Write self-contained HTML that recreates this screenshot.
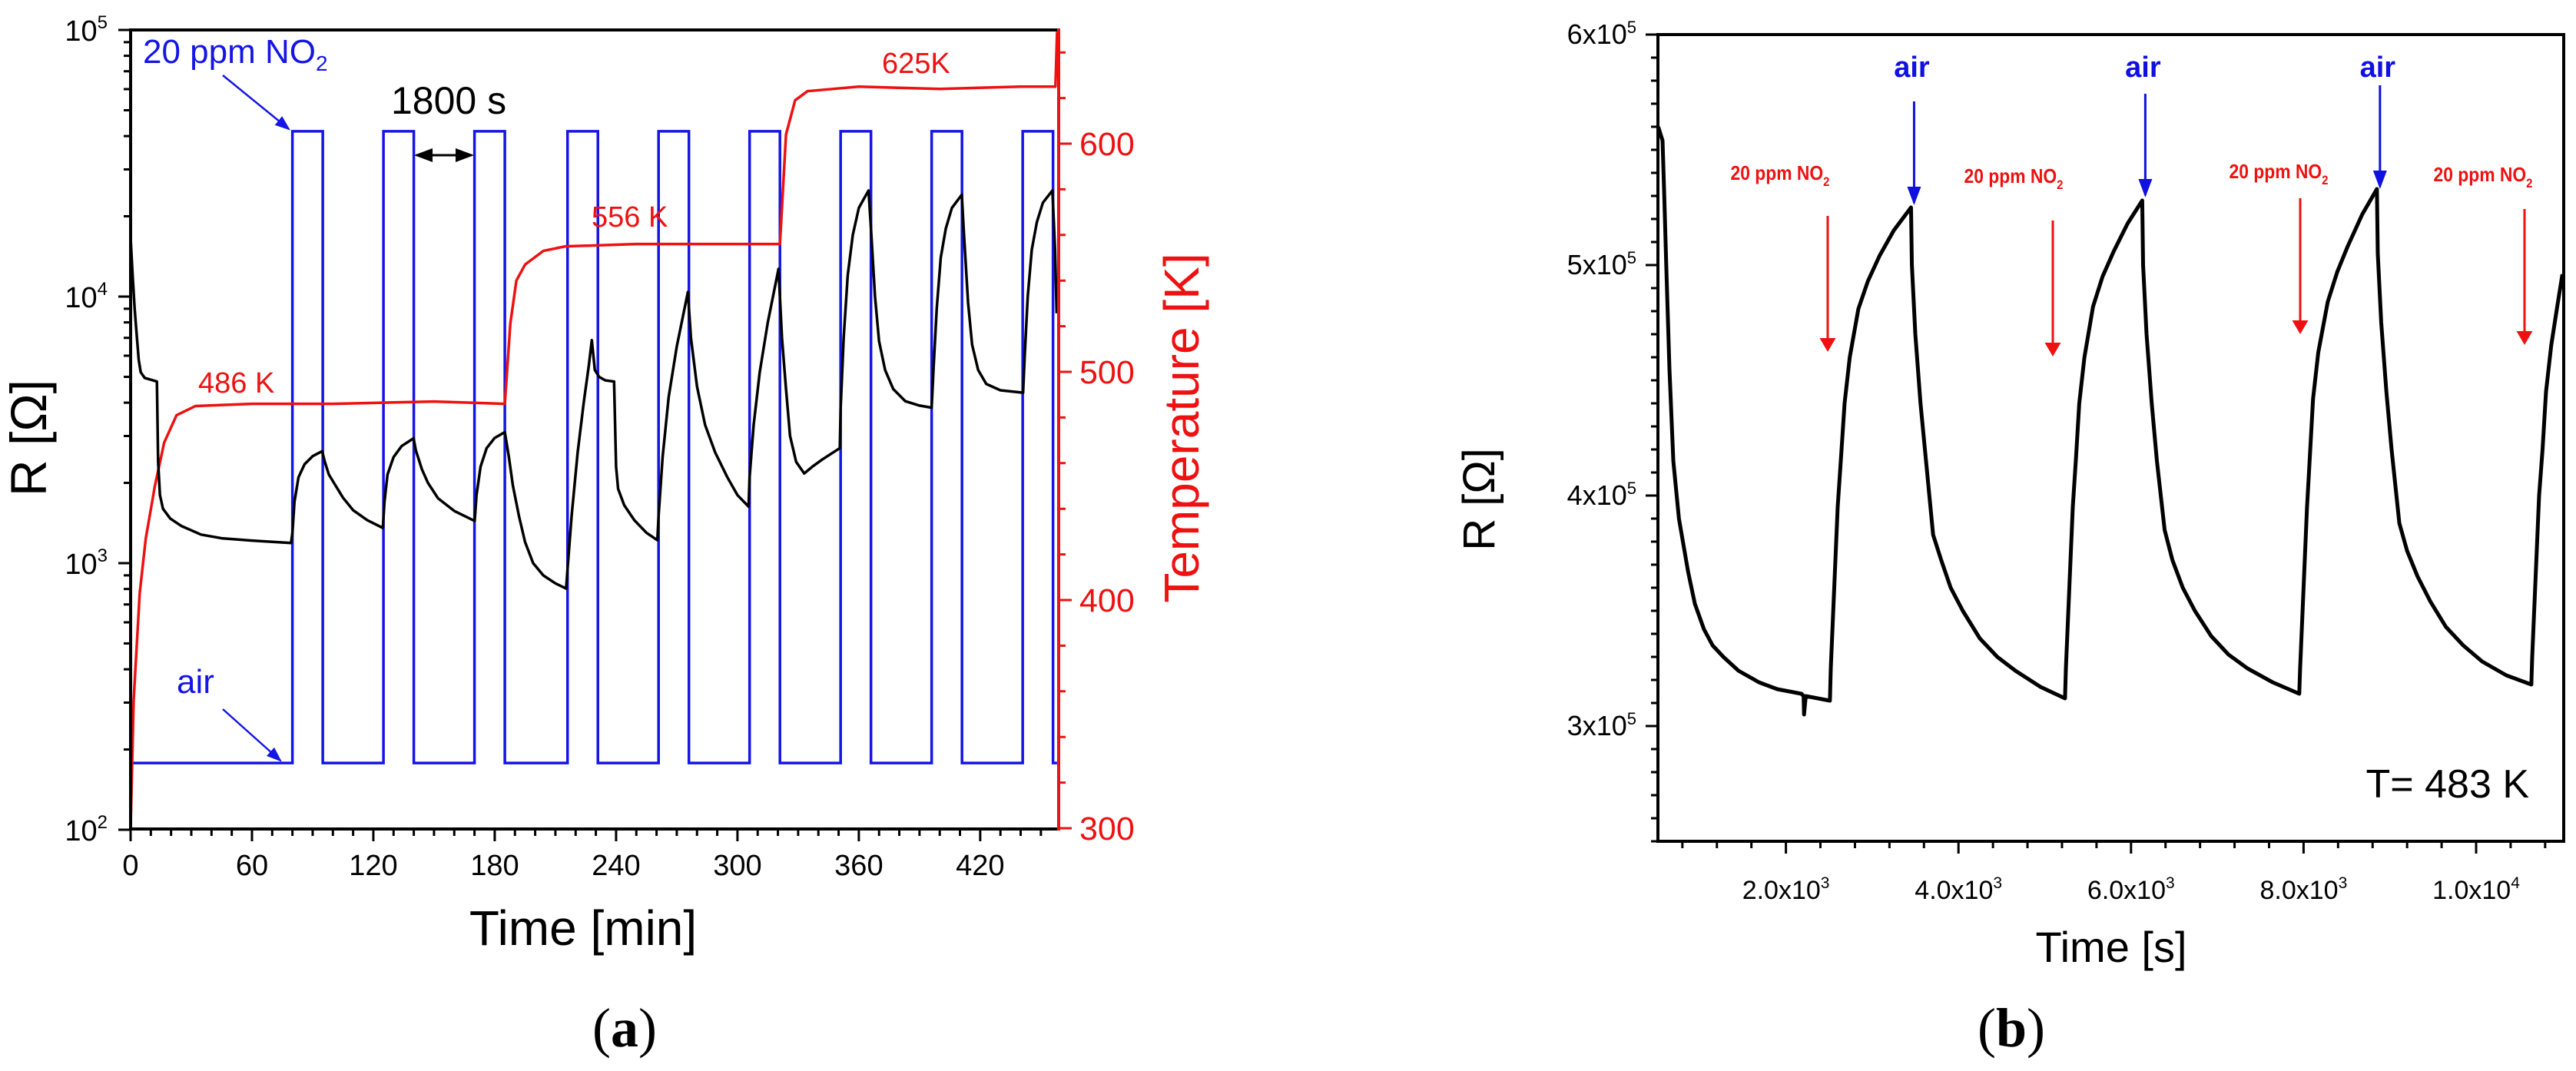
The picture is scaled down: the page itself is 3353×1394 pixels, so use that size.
<!DOCTYPE html>
<html><head><meta charset="utf-8"><style>
html,body{margin:0;padding:0;background:#fff}
svg{display:block}
text{font-family:"Liberation Sans",Arial,sans-serif}
</style></head><body>
<svg id="s" width="3353" height="1394" viewBox="0 0 3353 1394" xmlns="http://www.w3.org/2000/svg">
<defs>
<marker id="ab" markerWidth="8" markerHeight="8" refX="7" refY="4" orient="auto" markerUnits="strokeWidth"><path d="M0,1 L8,4 L0,7 z" fill="#1010e0"/></marker>
<marker id="ar" markerWidth="6" markerHeight="10" refX="5" refY="5" orient="auto" markerUnits="strokeWidth"><path d="M0,1.5 L6,5 L0,8.5 z" fill="#ee1111"/></marker>
</defs>
<g id="chartA"></g>
<g id="chartB"></g>
</svg>
<script>
// ---- Chart (a) data ----
const pulseStarts = [80,125,170,216,261,306,351,396,441];
const pulseWidth = [15];
const gasLevels = [178, 41700];
const tempTimes = [0,1.5,4.5,7.5,12,16.6,22.7,32,60,100,150,185,187.7,190.7,195,204,215,250,300,321,324,328.5,334.6,360,400,440,457.2,458];
const tempValues = [300,356,403,427,450,469,481,485,486,486,487,486,521,540,547,553,555,556,556,556,604,619,623,625,624,625,625,649];
const resTimes = [0,1,2,3,4,5,7,13,13.6,14.5,16,19.6,25,34.8,45,60,79.3,
80,81,83,86,90,94.7,96,98,101.4,105,110,117,124.7,
125.5,127,130,134,139.9,141,144,147,152,160,170.1,
171,173,176,180,185,187,189,192,195,199,204,210,215.3,
216,218,221,224,226.5,228,229.5,231.6,234.6,239,240,241,244,249,255,260.4,
261,263,266,270,275.5,277,280,284,289,295,300,305.5,
306,308,311,315,320.3,322,324,326,329,333,337,342,350.6,
351,352.5,354.5,357,360,364.8,366,368,370,373,377,383,390,396,
397,398.5,400.5,403,406,410.9,412,414,416,419,423,430,441.2,
442,443.5,445.5,448,451,455.7,457,457.8];
const resValues = [16600,12000,9000,7200,5800,5200,4950,4800,2400,1800,1600,1470,1380,1280,1240,1215,1190,
1300,1700,2100,2350,2520,2630,2400,2150,1950,1760,1580,1450,1355,
1700,2150,2500,2750,2940,2650,2250,2000,1750,1570,1440,
1800,2300,2700,2950,3100,2500,1950,1500,1200,1000,900,840,803,
950,1500,2600,4000,5500,6860,5300,5000,4850,4800,2300,1900,1650,1450,1300,1220,
1500,2500,4200,6500,10400,7000,4600,3300,2600,2100,1800,1630,
2100,3300,5200,8000,12700,7000,4500,3000,2400,2170,2300,2450,2700,
3800,7000,12000,17000,21500,25000,18000,10000,6800,5300,4500,4050,3900,3830,
5500,9000,14000,18000,21500,24100,17000,9500,6600,5300,4700,4450,4360,
6000,10000,15000,19000,22500,25000,15000,8650];
const xTicksA = [0,60,120,180,240,300,360,420];
const yTicksA = [2,3,4,5];
const tTicksA = [300,400,500,600];
// ---- Chart (b) data ----
const resTimesB = [520,570,590,613,650,695,760,866,945,1050,1150,1275,1450,1686,1900,2180,2205,2210,2230,2510,
2520,2560,2600,2636,2680,2740,2840,2950,3085,3250,3450,
3460,3500,3560,3624,3706,3800,3910,4050,4248,4450,4660,4950,5235,
5245,5285,5325,5360,5400,5460,5560,5670,5800,5960,6130,
6140,6180,6240,6300,6390,6480,6600,6740,6930,7130,7350,7640,7950,
7960,8000,8040,8070,8110,8170,8280,8390,8510,8680,8850,
8860,8900,8960,9020,9110,9200,9320,9470,9650,9850,10070,10350,10640,
10650,10690,10730,10770,10810,10870,10940,11000];
const resValuesB = [5.6,5.54,5.3,5.0,4.55,4.15,3.9,3.67,3.53,3.42,3.35,3.30,3.24,3.19,3.16,3.14,3.13,3.05,3.13,3.11,
3.25,3.6,3.95,4.15,4.4,4.6,4.81,4.93,5.04,5.15,5.25,
5.0,4.7,4.4,4.15,3.83,3.72,3.60,3.5,3.38,3.3,3.24,3.17,3.12,
3.25,3.6,3.95,4.15,4.4,4.6,4.82,4.95,5.06,5.18,5.28,
5.0,4.7,4.4,4.15,3.85,3.72,3.60,3.5,3.39,3.31,3.25,3.19,3.14,
3.25,3.6,3.95,4.15,4.42,4.62,4.84,4.97,5.08,5.22,5.33,
5.05,4.75,4.45,4.2,3.88,3.76,3.65,3.54,3.43,3.35,3.28,3.22,3.18,
3.3,3.65,4.0,4.2,4.45,4.65,4.82,4.96];
const xTicksB = [2000,4000,6000,8000,10000];
const xTickLabelsB = ["2.0x10","4.0x10","6.0x10","8.0x10","1.0x10"];
const xTickExpB = ["3","3","3","3","4"];
const yTicksB = [3,4,5,6];
const airTimes = [3450,6130,8850];
const no2Times = [2500,5130,7980,10650];

const NS="http://www.w3.org/2000/svg";
function mk(parent,tag,attrs){const e=document.createElementNS(NS,tag);for(const k in attrs)e.setAttribute(k,attrs[k]);parent.appendChild(e);return e;}
const A=document.getElementById('chartA'), B=document.getElementById('chartB');

const xL=t=>170+t*2.633;
const yR=v=>39+(5-Math.log10(v))*347;
const yT=k=>1078-(k-300)*2.97;
const L=170,R=1378,T=39,Bt=1079;

let tk='';
for(let d=2;d<5;d++)for(let m=2;m<10;m++){const y=yR(m*Math.pow(10,d));tk+=`M${L},${y}h-9`;}
yTicksA.forEach(p=>{tk+=`M${L},${yR(Math.pow(10,p))}h-16`;});
for(let t=0;t<=450;t+=10){tk+=`M${xL(t)},${Bt}v${t%60===0?16:9}`;}
let e=mk(A,'path',{d:tk,stroke:'#000','stroke-width':3,fill:'none'});


let tr='';
for(let k=300;k<=640;k+=20){tr+=`M${R},${yT(k)}h${k%100===0?17:9}`;}
e=mk(A,'path',{d:tr,stroke:'#ee1111','stroke-width':3,fill:'none'});



let gp=`M${xL(0)},${yR(gasLevels[0])}`;
pulseStarts.forEach(s=>{gp+=`L${xL(s)},${yR(gasLevels[0])}L${xL(s)},${yR(gasLevels[1])}L${xL(s+pulseWidth[0])},${yR(gasLevels[1])}L${xL(s+pulseWidth[0])},${yR(gasLevels[0])}`;});
gp+=`L${xL(458)},${yR(gasLevels[0])}`;
e=mk(A,'path',{d:gp,stroke:'#1515e6','stroke-width':3.5,fill:'none'});



e=mk(A,'path',{d:tempTimes.map((t,i)=>(i?'L':'M')+xL(t)+','+yT(tempValues[i])).join(''),stroke:'#ee1111','stroke-width':3.5,fill:'none','stroke-linejoin':'round'});



e=mk(A,'path',{d:resTimes.map((t,i)=>(i?'L':'M')+xL(t)+','+yR(resValues[i])).join(''),stroke:'#000','stroke-width':3.5,fill:'none','stroke-linejoin':'round'});



e=mk(A,'path',{d:`M${L},${Bt}V${T}H${R}M${L},${Bt}H${R}`,stroke:'#000','stroke-width':4,fill:'none'});


e=mk(A,'path',{d:`M${R},${T-2}V${Bt+2}`,stroke:'#ee1111','stroke-width':4});



xTicksA.forEach(t=>{const x=mk(A,'text',{x:xL(t),y:1139,'font-size':38,'text-anchor':'middle'});x.textContent=t;

});
yTicksA.forEach(p=>{const x=mk(A,'text',{x:140,y:yR(Math.pow(10,p))+14,'font-size':38,'text-anchor':'end'});x.innerHTML=`10<tspan dy="-16" font-size="24">${p}</tspan>`;

});
tTicksA.forEach(k=>{const x=mk(A,'text',{x:1405,y:yT(k)+15,'font-size':43,fill:'#ee1111'});x.textContent=k;

});

const xB=t=>2100+t*0.1123;
const yB=r=>45+(6-r)*300;
const BL=2158,BR=3337,BT=45,BB=1095;
let tb='';
for(let r=2.5;r<=6.001;r+=0.1){const y=yB(r);const maj=Math.abs(r-Math.round(r))<0.01;tb+=`M${BL},${y}h${maj?-16:-9}`;}
for(let t=800;t<=10800;t+=400){tb+=`M${xB(t)},${BB}v${t%2000===0?16:9}`;}
e=mk(B,'path',{d:tb,stroke:'#000','stroke-width':3,fill:'none'});


e=mk(B,'path',{d:resTimesB.map((t,i)=>(i?'L':'M')+xB(t)+','+yB(resValuesB[i])).join(''),stroke:'#000','stroke-width':5,fill:'none','stroke-linejoin':'round'});


e=mk(B,'rect',{x:BL,y:BT,width:BR-BL,height:BB-BT,fill:'none',stroke:'#000','stroke-width':4});


xTicksB.forEach((t,i)=>{const x=mk(B,'text',{x:xB(t),y:1170,'font-size':34,'text-anchor':'middle'});x.innerHTML=`${xTickLabelsB[i]}<tspan dy="-14" font-size="21">${xTickExpB[i]}</tspan>`;

});
yTicksB.forEach(r=>{const x=mk(B,'text',{x:2130,y:yB(r)+12,'font-size':36,'text-anchor':'end'});x.innerHTML=`${r}x10<tspan dy="-14" font-size="22">5</tspan>`;

});
const airTop=[132,122,111];
airTimes.forEach((t,i)=>{const x=xB(t)+4;
let a=mk(B,'line',{x1:x,y1:airTop[i],x2:x,y2:airTop[i]+132,stroke:'#1010e0','stroke-width':3,'marker-end':'url(#ab)'});


let l=mk(B,'text',{x:x-3,y:100,'font-size':38,'font-weight':'bold',fill:'#1010e0','text-anchor':'middle'});l.textContent='air';

});
const no2Top=[281,287,258,272];
const no2LabelX=[2317,2621,2966,3232];
const no2LabelY=[234,238,232,236];
no2Times.forEach((t,i)=>{const x=[2379,2672,2994,3286][i];
let a=mk(B,'line',{x1:x,y1:no2Top[i],x2:x,y2:no2Top[i]+174,stroke:'#ee1111','stroke-width':3,'marker-end':'url(#ar)'});


let l=mk(B,'text',{x:no2LabelX[i],y:no2LabelY[i],'font-size':26,'font-weight':'bold',fill:'#ee1111','text-anchor':'middle',transform:`translate(${no2LabelX[i]*0.12},0) scale(0.88,1)`});
l.innerHTML='20 ppm NO<tspan dy="8" font-size="17">2</tspan>';

});
</script>
<div style="position:absolute;left:0;top:0;width:3353px;height:1394px;pointer-events:none">
<svg width="3353" height="1394" xmlns="http://www.w3.org/2000/svg">
<defs>
<marker id="ab2" markerWidth="8" markerHeight="8" refX="7" refY="4" orient="auto" markerUnits="strokeWidth"><path d="M0,1 L8,4 L0,7 z" fill="#1515e6"/></marker>
<marker id="ak" markerWidth="8" markerHeight="8" refX="7" refY="4" orient="auto" markerUnits="strokeWidth"><path d="M0,1 L8,4 L0,7 z" fill="#000"/></marker>
<marker id="ak2" markerWidth="8" markerHeight="8" refX="1" refY="4" orient="auto" markerUnits="strokeWidth"><path d="M8,1 L0,4 L8,7 z" fill="#000"/></marker>
</defs>
<text x="60" y="570" font-size="66" text-anchor="middle" transform="rotate(-90 60 570)">R [Ω]</text>
<text x="1560" y="557" font-size="64" fill="#ee1111" text-anchor="middle" transform="rotate(-90 1560 557)">Temperature [K]</text>
<text x="759" y="1230" font-size="64" text-anchor="middle">Time [min]</text>
<text x="813" y="1362" font-size="72" text-anchor="middle" style="font-family:'Liberation Serif',serif">(<tspan font-weight="bold">a</tspan>)</text>
<text x="186" y="82" font-size="44" fill="#1515e6">20 ppm NO<tspan dy="10" font-size="28">2</tspan></text>
<line x1="290" y1="98" x2="376" y2="168" stroke="#1515e6" stroke-width="2.5" marker-end="url(#ab2)"/>
<text x="509" y="148" font-size="50">1800 s</text>
<line x1="542" y1="202" x2="614" y2="202" stroke="#000" stroke-width="3" marker-end="url(#ak)" marker-start="url(#ak2)"/>
<text x="230" y="902" font-size="44" fill="#1515e6">air</text>
<line x1="290" y1="923" x2="365" y2="990" stroke="#1515e6" stroke-width="2.5" marker-end="url(#ab2)"/>
<text x="258" y="511" font-size="38" fill="#ee1111">486 K</text>
<text x="770" y="295" font-size="38" fill="#ee1111">556 K</text>
<text x="1148" y="95" font-size="38" fill="#ee1111">625K</text>
<text x="1945" y="650" font-size="58" text-anchor="middle" transform="rotate(-90 1945 650)">R [Ω]</text>
<text x="2748" y="1252" font-size="56" text-anchor="middle">Time [s]</text>
<text x="3292" y="1038" font-size="52" text-anchor="end">T= 483 K</text>
<text x="2618" y="1362" font-size="72" text-anchor="middle" style="font-family:'Liberation Serif',serif">(<tspan font-weight="bold">b</tspan>)</text>
</svg>
</div>
</body></html>
